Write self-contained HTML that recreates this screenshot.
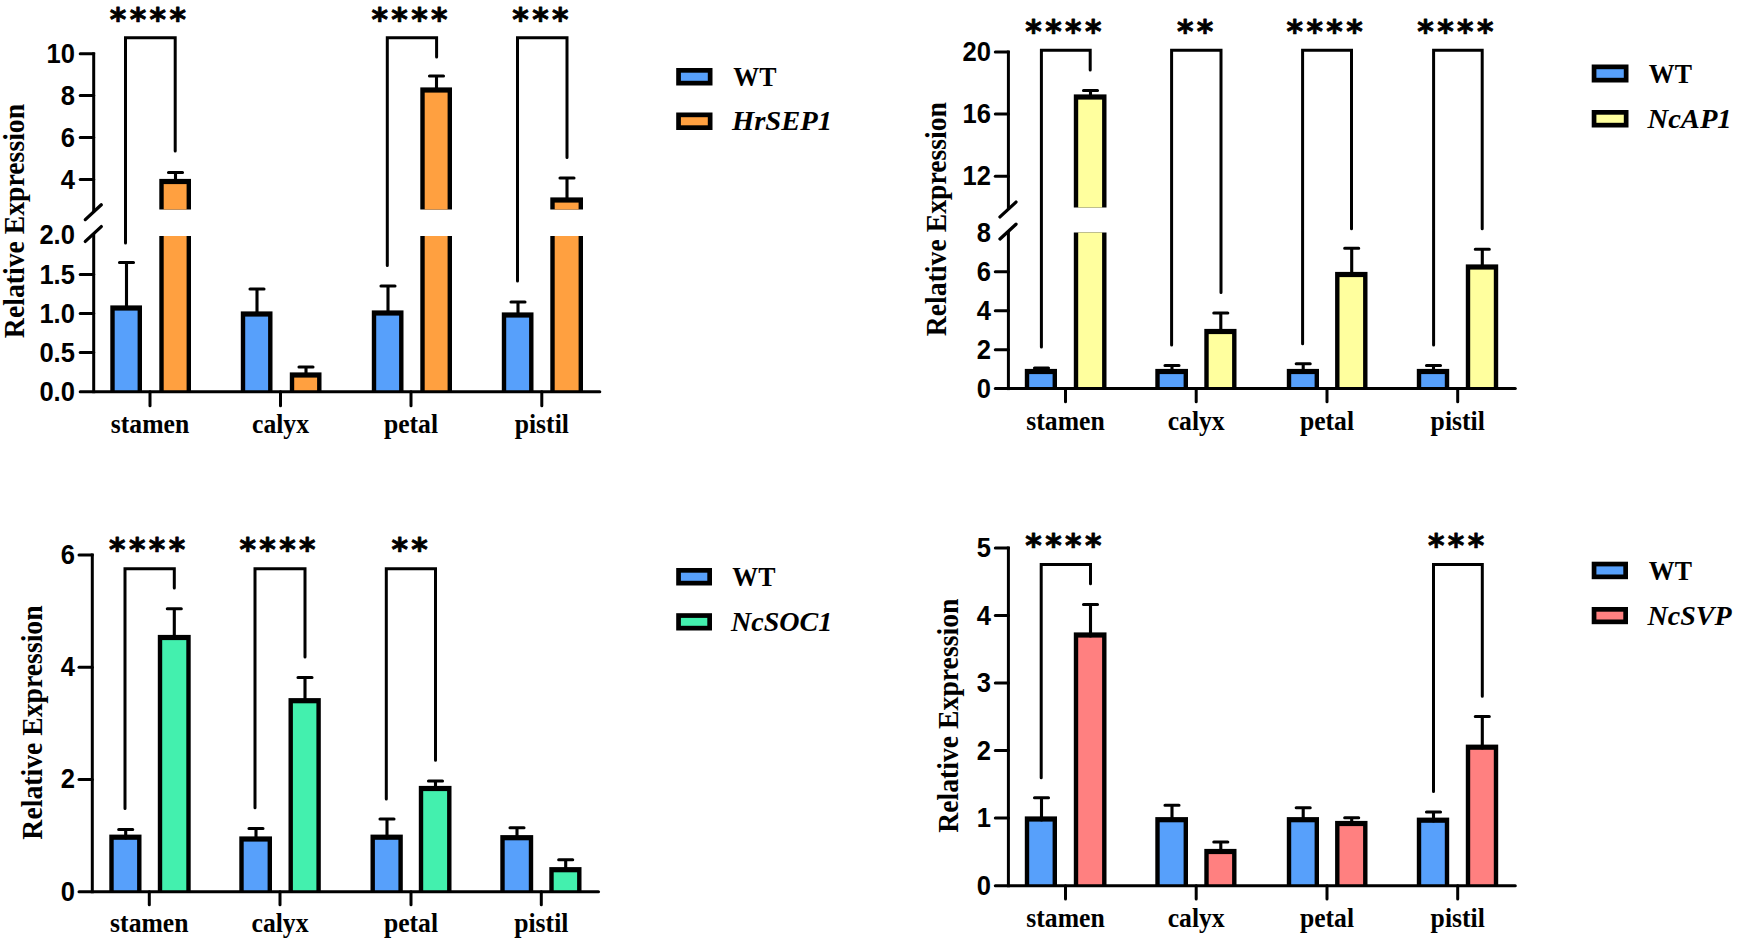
<!DOCTYPE html>
<html lang="en"><head><meta charset="utf-8"><title>Relative Expression</title>
<style>
html,body{margin:0;padding:0;background:#fff;}
body{width:1737px;height:945px;overflow:hidden;}
svg{display:block;}
.tk{font-family:"Liberation Sans",sans-serif;font-weight:bold;font-size:27.2px;fill:#000;}
.st{font-family:"DejaVu Sans","Liberation Sans",sans-serif;font-weight:bold;font-size:31.5px;letter-spacing:3.4px;fill:#000;stroke:#000;stroke-width:0.8px;stroke-linejoin:round;}
.xl{font-family:"Liberation Serif",serif;font-weight:bold;font-size:27.3px;fill:#000;}
.yl{font-family:"Liberation Serif",serif;font-weight:bold;font-size:29.5px;fill:#000;}
.lg{font-family:"Liberation Serif",serif;font-weight:bold;font-size:27.5px;fill:#000;}
.lgi{font-family:"Liberation Serif",serif;font-weight:bold;font-style:italic;font-size:27.5px;fill:#000;}
</style></head><body>
<svg width="1737" height="945" viewBox="0 0 1737 945">
<rect width="1737" height="945" fill="#fff"/>
<g>
<rect x="110.3" y="305.4" width="31.7" height="86.3" fill="#000"/>
<rect x="114.7" y="310.6" width="22.9" height="81.1" fill="#57A0FB"/>
<rect x="159.3" y="178.9" width="31.7" height="30.6" fill="#000"/>
<rect x="163.7" y="184.1" width="22.9" height="25.4" fill="#FFA040"/>
<rect x="159.3" y="236" width="31.7" height="155.7" fill="#000"/>
<rect x="163.7" y="236" width="22.9" height="155.7" fill="#FFA040"/>
<rect x="240.8" y="311.4" width="31.7" height="80.3" fill="#000"/>
<rect x="245.2" y="316.6" width="22.9" height="75.1" fill="#57A0FB"/>
<rect x="289.8" y="372.4" width="31.7" height="19.3" fill="#000"/>
<rect x="294.2" y="377.6" width="22.9" height="14.1" fill="#FFA040"/>
<rect x="371.8" y="310.4" width="31.7" height="81.3" fill="#000"/>
<rect x="376.2" y="315.6" width="22.9" height="76.1" fill="#57A0FB"/>
<rect x="420.3" y="87.4" width="31.7" height="122.1" fill="#000"/>
<rect x="424.7" y="92.6" width="22.9" height="116.9" fill="#FFA040"/>
<rect x="420.3" y="236" width="31.7" height="155.7" fill="#000"/>
<rect x="424.7" y="236" width="22.9" height="155.7" fill="#FFA040"/>
<rect x="501.8" y="312.4" width="31.7" height="79.3" fill="#000"/>
<rect x="506.2" y="317.6" width="22.9" height="74.1" fill="#57A0FB"/>
<rect x="550.3" y="197.4" width="32.7" height="12.1" fill="#000"/>
<rect x="554.7" y="202.6" width="23.9" height="6.9" fill="#FFA040"/>
<rect x="550.3" y="236" width="32.7" height="155.7" fill="#000"/>
<rect x="554.7" y="236" width="23.9" height="155.7" fill="#FFA040"/>
<path d="M126.5 308 V262.5 M119.5 262.5 H133.5" fill="none" stroke="#000" stroke-width="3.1" stroke-linecap="round"/>
<path d="M175.5 182 V172.5 M168.5 172.5 H182.5" fill="none" stroke="#000" stroke-width="3.1" stroke-linecap="round"/>
<path d="M257 314 V289 M250.0 289 H264.0" fill="none" stroke="#000" stroke-width="3.1" stroke-linecap="round"/>
<path d="M306 375 V367 M299.0 367 H313.0" fill="none" stroke="#000" stroke-width="3.1" stroke-linecap="round"/>
<path d="M388 313 V286 M381.0 286 H395.0" fill="none" stroke="#000" stroke-width="3.1" stroke-linecap="round"/>
<path d="M436.5 90 V76 M429.5 76 H443.5" fill="none" stroke="#000" stroke-width="3.1" stroke-linecap="round"/>
<path d="M518 315 V302 M511.0 302 H525.0" fill="none" stroke="#000" stroke-width="3.1" stroke-linecap="round"/>
<path d="M567 200 V178 M560.0 178 H574.0" fill="none" stroke="#000" stroke-width="3.1" stroke-linecap="round"/>
<line x1="93.7" y1="52.3" x2="93.7" y2="212" stroke="#000" stroke-width="3.0" stroke-linecap="butt"/>
<line x1="93.7" y1="233.8" x2="93.7" y2="393.2" stroke="#000" stroke-width="3.0" stroke-linecap="butt"/>
<line x1="85.3" y1="219.6" x2="101.3" y2="204.8" stroke="#000" stroke-width="3.3" stroke-linecap="round"/>
<line x1="85.3" y1="241.4" x2="101.3" y2="226.6" stroke="#000" stroke-width="3.3" stroke-linecap="round"/>
<line x1="80.2" y1="391.7" x2="599.8" y2="391.7" stroke="#000" stroke-width="3.0" stroke-linecap="round"/>
<line x1="80.2" y1="53.8" x2="93.7" y2="53.8" stroke="#000" stroke-width="3.0" stroke-linecap="round"/>
<text class="tk" transform="translate(74.9 62.9) scale(0.94 1)" text-anchor="end">10</text>
<line x1="80.2" y1="95.6" x2="93.7" y2="95.6" stroke="#000" stroke-width="3.0" stroke-linecap="round"/>
<text class="tk" transform="translate(74.9 104.7) scale(0.94 1)" text-anchor="end">8</text>
<line x1="80.2" y1="137.5" x2="93.7" y2="137.5" stroke="#000" stroke-width="3.0" stroke-linecap="round"/>
<text class="tk" transform="translate(74.9 146.6) scale(0.94 1)" text-anchor="end">6</text>
<line x1="80.2" y1="179.4" x2="93.7" y2="179.4" stroke="#000" stroke-width="3.0" stroke-linecap="round"/>
<text class="tk" transform="translate(74.9 188.5) scale(0.94 1)" text-anchor="end">4</text>
<text class="tk" transform="translate(74.9 244.3) scale(0.94 1)" text-anchor="end">2.0</text>
<line x1="80.2" y1="274.4" x2="93.7" y2="274.4" stroke="#000" stroke-width="3.0" stroke-linecap="round"/>
<text class="tk" transform="translate(74.9 283.5) scale(0.94 1)" text-anchor="end">1.5</text>
<line x1="80.2" y1="313.6" x2="93.7" y2="313.6" stroke="#000" stroke-width="3.0" stroke-linecap="round"/>
<text class="tk" transform="translate(74.9 322.7) scale(0.94 1)" text-anchor="end">1.0</text>
<line x1="80.2" y1="352.6" x2="93.7" y2="352.6" stroke="#000" stroke-width="3.0" stroke-linecap="round"/>
<text class="tk" transform="translate(74.9 361.7) scale(0.94 1)" text-anchor="end">0.5</text>
<text class="tk" transform="translate(74.9 400.8) scale(0.94 1)" text-anchor="end">0.0</text>
<line x1="150" y1="391.7" x2="150" y2="405.7" stroke="#000" stroke-width="3.0" stroke-linecap="round"/>
<text class="xl" transform="translate(150 432.5) scale(0.94 1)" text-anchor="middle">stamen</text>
<line x1="280.5" y1="391.7" x2="280.5" y2="405.7" stroke="#000" stroke-width="3.0" stroke-linecap="round"/>
<text class="xl" transform="translate(280.5 432.5) scale(0.94 1)" text-anchor="middle">calyx</text>
<line x1="411" y1="391.7" x2="411" y2="405.7" stroke="#000" stroke-width="3.0" stroke-linecap="round"/>
<text class="xl" transform="translate(411 432.5) scale(0.94 1)" text-anchor="middle">petal</text>
<line x1="541.8" y1="391.7" x2="541.8" y2="405.7" stroke="#000" stroke-width="3.0" stroke-linecap="round"/>
<text class="xl" transform="translate(541.8 432.5) scale(0.94 1)" text-anchor="middle">pistil</text>
<path d="M125.5 243 V37.8 H175.2 V151" fill="none" stroke="#000" stroke-width="3.0" stroke-linecap="round" stroke-linejoin="miter"/>
<text class="st" x="149.57" y="29.5" text-anchor="middle">****</text>
<path d="M387.3 265.5 V37.8 H436.6 V57" fill="none" stroke="#000" stroke-width="3.0" stroke-linecap="round" stroke-linejoin="miter"/>
<text class="st" x="411.17" y="29.5" text-anchor="middle">****</text>
<path d="M517.5 281 V37.8 H567 V157.5" fill="none" stroke="#000" stroke-width="3.0" stroke-linecap="round" stroke-linejoin="miter"/>
<text class="st" x="542.09" y="29.5" text-anchor="middle">***</text>
<text class="yl" transform="translate(24.2 221) rotate(-90) scale(0.94 1)" text-anchor="middle">Relative Expression</text>
<rect x="678.55" y="70.35" width="31.6" height="12.8" fill="#57A0FB" stroke="#000" stroke-width="4.7"/>
<text class="lg" transform="translate(733.3 85.5) scale(0.94 1)">WT</text>
<rect x="678.55" y="114.85" width="31.6" height="12.8" fill="#FFA040" stroke="#000" stroke-width="4.7"/>
<text class="lgi" transform="translate(732.0 130) scale(1.04 1)">HrSEP1</text>
</g>
<g>
<rect x="1024.8" y="368.9" width="32.2" height="19.7" fill="#000"/>
<rect x="1029.2" y="374.1" width="23.4" height="14.5" fill="#57A0FB"/>
<rect x="1073.8" y="94.4" width="32.7" height="113.1" fill="#000"/>
<rect x="1078.2" y="99.6" width="23.9" height="107.9" fill="#FFFF9E"/>
<rect x="1073.8" y="232.5" width="32.7" height="156.1" fill="#000"/>
<rect x="1078.2" y="232.5" width="23.9" height="156.1" fill="#FFFF9E"/>
<rect x="1155.3" y="368.9" width="32.7" height="19.7" fill="#000"/>
<rect x="1159.7" y="374.1" width="23.9" height="14.5" fill="#57A0FB"/>
<rect x="1204.3" y="328.9" width="32.2" height="59.7" fill="#000"/>
<rect x="1208.7" y="334.1" width="23.4" height="54.5" fill="#FFFF9E"/>
<rect x="1286.8" y="368.9" width="32.2" height="19.7" fill="#000"/>
<rect x="1291.2" y="374.1" width="23.4" height="14.5" fill="#57A0FB"/>
<rect x="1335.1" y="271.9" width="32.4" height="116.7" fill="#000"/>
<rect x="1339.5" y="277.1" width="23.6" height="111.5" fill="#FFFF9E"/>
<rect x="1416.8" y="368.9" width="32.4" height="19.7" fill="#000"/>
<rect x="1421.2" y="374.1" width="23.6" height="14.5" fill="#57A0FB"/>
<rect x="1465.8" y="264.4" width="32.4" height="124.2" fill="#000"/>
<rect x="1470.2" y="269.6" width="23.6" height="119.0" fill="#FFFF9E"/>
<path d="M1041.5 372 V368 M1034.5 368 H1048.5" fill="none" stroke="#000" stroke-width="3.1" stroke-linecap="round"/>
<path d="M1090.5 97 V90.5 M1083.5 90.5 H1097.5" fill="none" stroke="#000" stroke-width="3.1" stroke-linecap="round"/>
<path d="M1172 372 V365.5 M1165.0 365.5 H1179.0" fill="none" stroke="#000" stroke-width="3.1" stroke-linecap="round"/>
<path d="M1220.8 332 V313 M1213.8 313 H1227.8" fill="none" stroke="#000" stroke-width="3.1" stroke-linecap="round"/>
<path d="M1303.2 372 V363.7 M1296.2 363.7 H1310.2" fill="none" stroke="#000" stroke-width="3.1" stroke-linecap="round"/>
<path d="M1351.7 275 V248.2 M1344.7 248.2 H1358.7" fill="none" stroke="#000" stroke-width="3.1" stroke-linecap="round"/>
<path d="M1433.5 372 V365.5 M1426.5 365.5 H1440.5" fill="none" stroke="#000" stroke-width="3.1" stroke-linecap="round"/>
<path d="M1482.3 267 V249.2 M1475.3 249.2 H1489.3" fill="none" stroke="#000" stroke-width="3.1" stroke-linecap="round"/>
<line x1="1008.4" y1="50.5" x2="1008.4" y2="209.3" stroke="#000" stroke-width="3.0" stroke-linecap="butt"/>
<line x1="1008.4" y1="231.4" x2="1008.4" y2="390.1" stroke="#000" stroke-width="3.0" stroke-linecap="butt"/>
<line x1="1000.0" y1="216.9" x2="1016.0" y2="202.1" stroke="#000" stroke-width="3.3" stroke-linecap="round"/>
<line x1="1000.0" y1="239.0" x2="1016.0" y2="224.2" stroke="#000" stroke-width="3.3" stroke-linecap="round"/>
<line x1="995.3" y1="388.6" x2="1515.3" y2="388.6" stroke="#000" stroke-width="3.0" stroke-linecap="round"/>
<line x1="995.3" y1="52" x2="1008.4" y2="52" stroke="#000" stroke-width="3.0" stroke-linecap="round"/>
<text class="tk" transform="translate(990.9 61.0) scale(0.94 1)" text-anchor="end">20</text>
<line x1="995.3" y1="114" x2="1008.4" y2="114" stroke="#000" stroke-width="3.0" stroke-linecap="round"/>
<text class="tk" transform="translate(990.9 123.0) scale(0.94 1)" text-anchor="end">16</text>
<line x1="995.3" y1="176.2" x2="1008.4" y2="176.2" stroke="#000" stroke-width="3.0" stroke-linecap="round"/>
<text class="tk" transform="translate(990.9 185.2) scale(0.94 1)" text-anchor="end">12</text>
<text class="tk" transform="translate(990.9 241.6) scale(0.94 1)" text-anchor="end">8</text>
<line x1="995.3" y1="271.7" x2="1008.4" y2="271.7" stroke="#000" stroke-width="3.0" stroke-linecap="round"/>
<text class="tk" transform="translate(990.9 280.7) scale(0.94 1)" text-anchor="end">6</text>
<line x1="995.3" y1="310.8" x2="1008.4" y2="310.8" stroke="#000" stroke-width="3.0" stroke-linecap="round"/>
<text class="tk" transform="translate(990.9 319.8) scale(0.94 1)" text-anchor="end">4</text>
<line x1="995.3" y1="349.7" x2="1008.4" y2="349.7" stroke="#000" stroke-width="3.0" stroke-linecap="round"/>
<text class="tk" transform="translate(990.9 358.7) scale(0.94 1)" text-anchor="end">2</text>
<text class="tk" transform="translate(990.9 397.6) scale(0.94 1)" text-anchor="end">0</text>
<line x1="1065.5" y1="388.6" x2="1065.5" y2="401.8" stroke="#000" stroke-width="3.0" stroke-linecap="round"/>
<text class="xl" transform="translate(1065.5 430.2) scale(0.94 1)" text-anchor="middle">stamen</text>
<line x1="1196.2" y1="388.6" x2="1196.2" y2="401.8" stroke="#000" stroke-width="3.0" stroke-linecap="round"/>
<text class="xl" transform="translate(1196.2 430.2) scale(0.94 1)" text-anchor="middle">calyx</text>
<line x1="1327" y1="388.6" x2="1327" y2="401.8" stroke="#000" stroke-width="3.0" stroke-linecap="round"/>
<text class="xl" transform="translate(1327 430.2) scale(0.94 1)" text-anchor="middle">petal</text>
<line x1="1457.7" y1="388.6" x2="1457.7" y2="401.8" stroke="#000" stroke-width="3.0" stroke-linecap="round"/>
<text class="xl" transform="translate(1457.7 430.2) scale(0.94 1)" text-anchor="middle">pistil</text>
<path d="M1041.4 347 V50.2 H1090.2 V70" fill="none" stroke="#000" stroke-width="3.0" stroke-linecap="round" stroke-linejoin="miter"/>
<text class="st" x="1065.02" y="42.4" text-anchor="middle">****</text>
<path d="M1171.6 345 V50.2 H1221 V292.5" fill="none" stroke="#000" stroke-width="3.0" stroke-linecap="round" stroke-linejoin="miter"/>
<text class="st" x="1196.76" y="42.4" text-anchor="middle">**</text>
<path d="M1302.6 343.7 V50.2 H1351.5 V228.7" fill="none" stroke="#000" stroke-width="3.0" stroke-linecap="round" stroke-linejoin="miter"/>
<text class="st" x="1326.27" y="42.4" text-anchor="middle">****</text>
<path d="M1433.6 345 V50.2 H1482.2 V228.7" fill="none" stroke="#000" stroke-width="3.0" stroke-linecap="round" stroke-linejoin="miter"/>
<text class="st" x="1457.12" y="42.4" text-anchor="middle">****</text>
<text class="yl" transform="translate(945.7 219.1) rotate(-90) scale(0.94 1)" text-anchor="middle">Relative Expression</text>
<rect x="1594.05" y="66.85" width="32.1" height="13.3" fill="#57A0FB" stroke="#000" stroke-width="4.7"/>
<text class="lg" transform="translate(1648.8 83) scale(0.94 1)">WT</text>
<rect x="1594.05" y="112.35" width="32.1" height="12.8" fill="#FFFF9E" stroke="#000" stroke-width="4.7"/>
<text class="lgi" transform="translate(1647.5 128) scale(1.04 1)">NcAP1</text>
</g>
<g>
<rect x="109.3" y="834.6" width="32.2" height="57.2" fill="#000"/>
<rect x="113.7" y="839.8" width="23.4" height="52.0" fill="#57A0FB"/>
<rect x="157.8" y="634.9" width="32.9" height="256.9" fill="#000"/>
<rect x="162.2" y="640.1" width="24.1" height="251.7" fill="#43F0AE"/>
<rect x="239.3" y="836.4" width="32.7" height="55.4" fill="#000"/>
<rect x="243.7" y="841.6" width="23.9" height="50.2" fill="#57A0FB"/>
<rect x="288.5" y="698.1" width="32.3" height="193.7" fill="#000"/>
<rect x="292.9" y="703.3" width="23.5" height="188.5" fill="#43F0AE"/>
<rect x="370.5" y="834.6" width="32.3" height="57.2" fill="#000"/>
<rect x="374.9" y="839.8" width="23.5" height="52.0" fill="#57A0FB"/>
<rect x="418.8" y="785.9" width="32.7" height="105.9" fill="#000"/>
<rect x="423.2" y="791.1" width="23.9" height="100.7" fill="#43F0AE"/>
<rect x="500.3" y="835.1" width="32.9" height="56.7" fill="#000"/>
<rect x="504.7" y="840.3" width="24.1" height="51.5" fill="#57A0FB"/>
<rect x="549.3" y="867.1" width="32.2" height="24.7" fill="#000"/>
<rect x="553.7" y="872.3" width="23.4" height="19.5" fill="#43F0AE"/>
<path d="M125.7 838 V829.5 M118.7 829.5 H132.7" fill="none" stroke="#000" stroke-width="3.1" stroke-linecap="round"/>
<path d="M174.3 638 V608.7 M167.3 608.7 H181.3" fill="none" stroke="#000" stroke-width="3.1" stroke-linecap="round"/>
<path d="M256 839 V828.5 M249.0 828.5 H263.0" fill="none" stroke="#000" stroke-width="3.1" stroke-linecap="round"/>
<path d="M305 701 V677.5 M298.0 677.5 H312.0" fill="none" stroke="#000" stroke-width="3.1" stroke-linecap="round"/>
<path d="M387 838 V819 M380.0 819 H394.0" fill="none" stroke="#000" stroke-width="3.1" stroke-linecap="round"/>
<path d="M435.5 789 V781 M428.5 781 H442.5" fill="none" stroke="#000" stroke-width="3.1" stroke-linecap="round"/>
<path d="M517 838 V827.7 M510.0 827.7 H524.0" fill="none" stroke="#000" stroke-width="3.1" stroke-linecap="round"/>
<path d="M565.7 870 V859.7 M558.7 859.7 H572.7" fill="none" stroke="#000" stroke-width="3.1" stroke-linecap="round"/>
<line x1="92.3" y1="553.5" x2="92.3" y2="893.3" stroke="#000" stroke-width="3.0" stroke-linecap="butt"/>
<line x1="79" y1="891.8" x2="598.5" y2="891.8" stroke="#000" stroke-width="3.0" stroke-linecap="round"/>
<line x1="79" y1="555.0" x2="92.3" y2="555.0" stroke="#000" stroke-width="3.0" stroke-linecap="round"/>
<text class="tk" transform="translate(74.9 563.9) scale(0.94 1)" text-anchor="end">6</text>
<line x1="79" y1="667.3" x2="92.3" y2="667.3" stroke="#000" stroke-width="3.0" stroke-linecap="round"/>
<text class="tk" transform="translate(74.9 676.2) scale(0.94 1)" text-anchor="end">4</text>
<line x1="79" y1="779.5" x2="92.3" y2="779.5" stroke="#000" stroke-width="3.0" stroke-linecap="round"/>
<text class="tk" transform="translate(74.9 788.4) scale(0.94 1)" text-anchor="end">2</text>
<text class="tk" transform="translate(74.9 900.7) scale(0.94 1)" text-anchor="end">0</text>
<line x1="149.3" y1="891.8" x2="149.3" y2="904.8" stroke="#000" stroke-width="3.0" stroke-linecap="round"/>
<text class="xl" transform="translate(149.3 932.2) scale(0.94 1)" text-anchor="middle">stamen</text>
<line x1="280" y1="891.8" x2="280" y2="904.8" stroke="#000" stroke-width="3.0" stroke-linecap="round"/>
<text class="xl" transform="translate(280 932.2) scale(0.94 1)" text-anchor="middle">calyx</text>
<line x1="411" y1="891.8" x2="411" y2="904.8" stroke="#000" stroke-width="3.0" stroke-linecap="round"/>
<text class="xl" transform="translate(411 932.2) scale(0.94 1)" text-anchor="middle">petal</text>
<line x1="541.3" y1="891.8" x2="541.3" y2="904.8" stroke="#000" stroke-width="3.0" stroke-linecap="round"/>
<text class="xl" transform="translate(541.3 932.2) scale(0.94 1)" text-anchor="middle">pistil</text>
<path d="M125 808.5 V568.7 H174.3 V588" fill="none" stroke="#000" stroke-width="3.0" stroke-linecap="round" stroke-linejoin="miter"/>
<text class="st" x="148.87" y="560.0" text-anchor="middle">****</text>
<path d="M255 807.7 V568.7 H305 V657" fill="none" stroke="#000" stroke-width="3.0" stroke-linecap="round" stroke-linejoin="miter"/>
<text class="st" x="279.22" y="560.0" text-anchor="middle">****</text>
<path d="M386.3 799 V568.7 H435.5 V760.2" fill="none" stroke="#000" stroke-width="3.0" stroke-linecap="round" stroke-linejoin="miter"/>
<text class="st" x="411.36" y="560.0" text-anchor="middle">**</text>
<text class="yl" transform="translate(42.3 722.5) rotate(-90) scale(0.94 1)" text-anchor="middle">Relative Expression</text>
<rect x="678.55" y="570.35" width="31.1" height="12.8" fill="#57A0FB" stroke="#000" stroke-width="4.7"/>
<text class="lg" transform="translate(732.3 586) scale(0.94 1)">WT</text>
<rect x="678.55" y="615.55" width="31.1" height="12.6" fill="#43F0AE" stroke="#000" stroke-width="4.7"/>
<text class="lgi" transform="translate(731.0 631) scale(1.02 1)">NcSOC1</text>
</g>
<g>
<rect x="1024.8" y="816.4" width="32.2" height="69.3" fill="#000"/>
<rect x="1029.2" y="821.6" width="23.4" height="64.1" fill="#57A0FB"/>
<rect x="1073.8" y="632.4" width="32.7" height="253.3" fill="#000"/>
<rect x="1078.2" y="637.6" width="23.9" height="248.1" fill="#FF8080"/>
<rect x="1155.3" y="817.1" width="32.7" height="68.6" fill="#000"/>
<rect x="1159.7" y="822.3" width="23.9" height="63.4" fill="#57A0FB"/>
<rect x="1204.3" y="848.9" width="32.2" height="36.8" fill="#000"/>
<rect x="1208.7" y="854.1" width="23.4" height="31.6" fill="#FF8080"/>
<rect x="1286.8" y="817.1" width="32.2" height="68.6" fill="#000"/>
<rect x="1291.2" y="822.3" width="23.4" height="63.4" fill="#57A0FB"/>
<rect x="1335.1" y="820.9" width="32.4" height="64.8" fill="#000"/>
<rect x="1339.5" y="826.1" width="23.6" height="59.6" fill="#FF8080"/>
<rect x="1416.8" y="817.6" width="32.4" height="68.1" fill="#000"/>
<rect x="1421.2" y="822.8" width="23.6" height="62.9" fill="#57A0FB"/>
<rect x="1465.8" y="744.6" width="32.4" height="141.1" fill="#000"/>
<rect x="1470.2" y="749.8" width="23.6" height="135.9" fill="#FF8080"/>
<path d="M1041.5 820 V797.7 M1034.5 797.7 H1048.5" fill="none" stroke="#000" stroke-width="3.1" stroke-linecap="round"/>
<path d="M1090.5 636 V604.5 M1083.5 604.5 H1097.5" fill="none" stroke="#000" stroke-width="3.1" stroke-linecap="round"/>
<path d="M1172 820 V805.2 M1165.0 805.2 H1179.0" fill="none" stroke="#000" stroke-width="3.1" stroke-linecap="round"/>
<path d="M1220.8 852 V842 M1213.8 842 H1227.8" fill="none" stroke="#000" stroke-width="3.1" stroke-linecap="round"/>
<path d="M1303.2 820 V807.7 M1296.2 807.7 H1310.2" fill="none" stroke="#000" stroke-width="3.1" stroke-linecap="round"/>
<path d="M1351.7 824 V817.7 M1344.7 817.7 H1358.7" fill="none" stroke="#000" stroke-width="3.1" stroke-linecap="round"/>
<path d="M1433.5 821 V812 M1426.5 812 H1440.5" fill="none" stroke="#000" stroke-width="3.1" stroke-linecap="round"/>
<path d="M1482.3 748 V716.5 M1475.3 716.5 H1489.3" fill="none" stroke="#000" stroke-width="3.1" stroke-linecap="round"/>
<line x1="1008.4" y1="546.5" x2="1008.4" y2="887.2" stroke="#000" stroke-width="3.0" stroke-linecap="butt"/>
<line x1="995.3" y1="885.7" x2="1515.3" y2="885.7" stroke="#000" stroke-width="3.0" stroke-linecap="round"/>
<line x1="995.3" y1="548.0" x2="1008.4" y2="548.0" stroke="#000" stroke-width="3.0" stroke-linecap="round"/>
<text class="tk" transform="translate(990.9 557.3) scale(0.94 1)" text-anchor="end">5</text>
<line x1="995.3" y1="615.5" x2="1008.4" y2="615.5" stroke="#000" stroke-width="3.0" stroke-linecap="round"/>
<text class="tk" transform="translate(990.9 624.8) scale(0.94 1)" text-anchor="end">4</text>
<line x1="995.3" y1="683.0" x2="1008.4" y2="683.0" stroke="#000" stroke-width="3.0" stroke-linecap="round"/>
<text class="tk" transform="translate(990.9 692.3) scale(0.94 1)" text-anchor="end">3</text>
<line x1="995.3" y1="750.6" x2="1008.4" y2="750.6" stroke="#000" stroke-width="3.0" stroke-linecap="round"/>
<text class="tk" transform="translate(990.9 759.9) scale(0.94 1)" text-anchor="end">2</text>
<line x1="995.3" y1="818.1" x2="1008.4" y2="818.1" stroke="#000" stroke-width="3.0" stroke-linecap="round"/>
<text class="tk" transform="translate(990.9 827.4) scale(0.94 1)" text-anchor="end">1</text>
<text class="tk" transform="translate(990.9 895.0) scale(0.94 1)" text-anchor="end">0</text>
<line x1="1065.5" y1="885.7" x2="1065.5" y2="898.9" stroke="#000" stroke-width="3.0" stroke-linecap="round"/>
<text class="xl" transform="translate(1065.5 927.2) scale(0.94 1)" text-anchor="middle">stamen</text>
<line x1="1196.2" y1="885.7" x2="1196.2" y2="898.9" stroke="#000" stroke-width="3.0" stroke-linecap="round"/>
<text class="xl" transform="translate(1196.2 927.2) scale(0.94 1)" text-anchor="middle">calyx</text>
<line x1="1327" y1="885.7" x2="1327" y2="898.9" stroke="#000" stroke-width="3.0" stroke-linecap="round"/>
<text class="xl" transform="translate(1327 927.2) scale(0.94 1)" text-anchor="middle">petal</text>
<line x1="1457.7" y1="885.7" x2="1457.7" y2="898.9" stroke="#000" stroke-width="3.0" stroke-linecap="round"/>
<text class="xl" transform="translate(1457.7 927.2) scale(0.94 1)" text-anchor="middle">pistil</text>
<path d="M1041.2 777.7 V564.5 H1090.5 V583.7" fill="none" stroke="#000" stroke-width="3.0" stroke-linecap="round" stroke-linejoin="miter"/>
<text class="st" x="1065.07" y="556.0" text-anchor="middle">****</text>
<path d="M1433.5 791.5 V564.5 H1482.3 V696.2" fill="none" stroke="#000" stroke-width="3.0" stroke-linecap="round" stroke-linejoin="miter"/>
<text class="st" x="1457.74" y="556.0" text-anchor="middle">***</text>
<text class="yl" transform="translate(958.3 715.7) rotate(-90) scale(0.94 1)" text-anchor="middle">Relative Expression</text>
<rect x="1594.05" y="564.05" width="31.6" height="12.8" fill="#57A0FB" stroke="#000" stroke-width="4.7"/>
<text class="lg" transform="translate(1648.8 579.5) scale(0.94 1)">WT</text>
<rect x="1594.05" y="609.35" width="31.6" height="12.5" fill="#FF8080" stroke="#000" stroke-width="4.7"/>
<text class="lgi" transform="translate(1647.5 624.5) scale(1.02 1)">NcSVP</text>
</g>
</svg>
</body></html>
